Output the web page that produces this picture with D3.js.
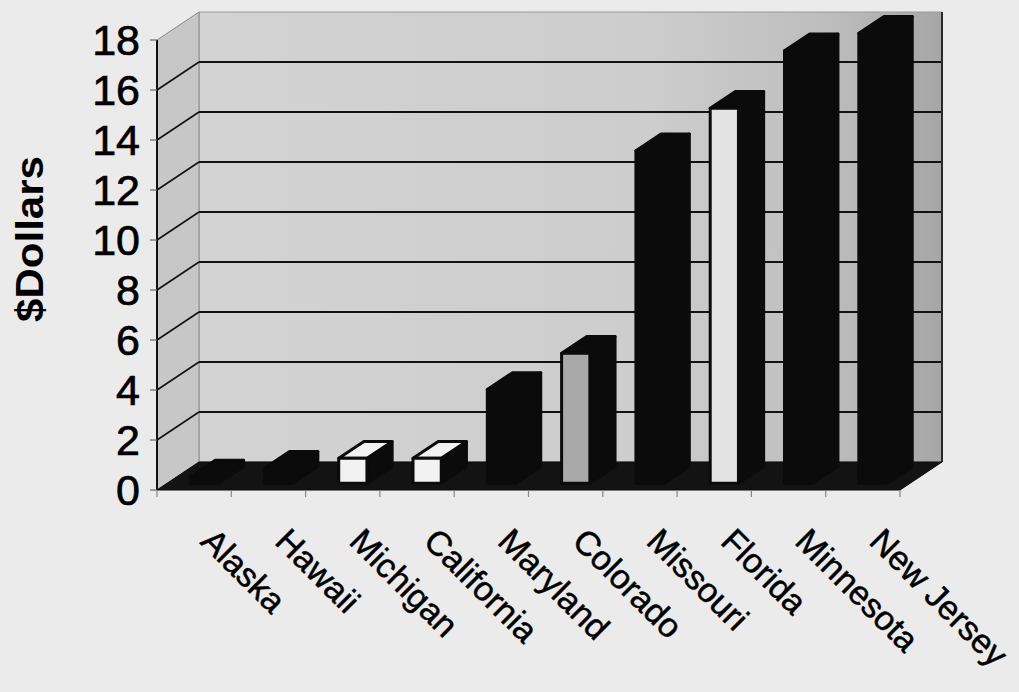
<!DOCTYPE html>
<html><head><meta charset="utf-8">
<script src="https://cdn.jsdelivr.net/npm/d3@7"></script>
<style>html,body{margin:0;padding:0;background:#ebebeb;} svg{display:block}</style>
</head><body>
<svg id="chart" width="1019" height="692"></svg>
<script>
// Data
const states = ["Alaska","Hawaii","Michigan","California","Maryland","Colorado","Missouri","Florida","Minnesota","New Jersey"];
const dollars = [0.25, 0.6, 1.0, 1.0, 3.75, 5.2, 13.3, 15.0, 17.3, 18.0];
const yTicks = [0, 2, 4, 6, 8, 10, 12, 14, 16, 18];
const yTitle = "$Dollars";

// Face shading per state (default is solid ink)
const frontShade = {Michigan: "#f2f2f2", California: "#f2f2f2", Colorado: "#a9a9a9", Florida: "#e3e3e3"};
const topShade = {Michigan: "#f2f2f2", California: "#f2f2f2"};
const INK = "#0b0b0b";

const svg = d3.select("#chart");
const W = 1019, H = 692;
svg.append("rect").attr("width", W).attr("height", H).attr("fill", "#ebebeb");

// Oblique projection of the full floor depth
const DX = 42, DY = -28;
const x = d3.scaleBand().domain(states).range([157, 900]);
const y = d3.scaleLinear().domain([0, 18]).range([490, 40]);
const P = (px, py, f) => [px + f * DX, py + f * DY];
const line = d3.line();

const [x0, x1] = x.range();
const yb = y(0), yt = y(yTicks[yTicks.length - 1]);
const bw = x.bandwidth();

// Back wall shading
const defs = svg.append("defs");
const g1 = defs.append("linearGradient").attr("id", "wallGrad")
  .attr("gradientUnits", "userSpaceOnUse")
  .attr("x1", x0 + DX).attr("x2", x1 + DX).attr("y1", 0).attr("y2", 0);
g1.append("stop").attr("offset", "0").attr("stop-color", "#d3d3d3");
g1.append("stop").attr("offset", "0.6").attr("stop-color", "#cdcdcd");
g1.append("stop").attr("offset", "0.85").attr("stop-color", "#bdbdbd");
g1.append("stop").attr("offset", "1").attr("stop-color", "#a6a6a6");

// Walls
svg.append("path")
  .attr("d", line([P(x0, yb, 1), P(x1, yb, 1), P(x1, yt, 1), P(x0, yt, 1)]) + "Z")
  .attr("fill", "url(#wallGrad)").attr("stroke", "#9a9a9a").attr("stroke-width", 1);
svg.append("path")
  .attr("d", line([[x0, yb], [x0, yt], P(x0, yt, 1), P(x0, yb, 1)]) + "Z")
  .attr("fill", "#c7c7c7").attr("stroke", "#8a8a8a").attr("stroke-width", 1);

// Gridlines on back and side walls
const inner = yTicks.filter(v => v > 0 && v < 18);
svg.append("g").selectAll("path.bg").data(inner).join("path")
  .attr("d", v => line([P(x0, y(v), 1), P(x1, y(v), 1)]))
  .attr("stroke", "#111").attr("stroke-width", 2).attr("fill", "none");
svg.append("g").selectAll("path.sg").data(inner).join("path")
  .attr("d", v => line([[x0, y(v)], P(x0, y(v), 1)]))
  .attr("stroke", "#111").attr("stroke-width", 1.6).attr("fill", "none");

// Right edge of the back wall
svg.append("path").attr("d", line([P(x1, yb, 1), P(x1, yt, 1)]))
  .attr("stroke", "#2a2a2a").attr("stroke-width", 2);

// Floor
svg.append("path")
  .attr("d", line([[x0, yb], [x1, yb], P(x1, yb, 1), P(x0, yb, 1)]) + "Z")
  .attr("fill", "#131313").attr("stroke", "#0a0a0a").attr("stroke-width", 1);

// Value axis line and ticks
svg.append("path").attr("d", line([[x0, yb], [x0, yt]]))
  .attr("stroke", "#111").attr("stroke-width", 2);
svg.append("g").selectAll("path").data(yTicks).join("path")
  .attr("d", v => line([[x0 - 7, y(v)], [x0, y(v)]]))
  .attr("stroke", "#666").attr("stroke-width", 1.2);

// Category ticks along the floor front edge
svg.append("g").selectAll("path").data(d3.range(states.length + 1)).join("path")
  .attr("d", i => line([[x0 + i * bw, yb], [x0 + i * bw, yb + 7]]))
  .attr("stroke", "#888").attr("stroke-width", 1.2);

// Columns
const f0 = 0.24, f1 = 0.84, bwFrac = 0.38;
const bars = svg.append("g");
states.forEach((s, i) => {
  const v = dollars[i];
  const cx = x(s) + bw / 2, w = bw * bwFrac;
  const L = cx - w / 2, R = cx + w / 2, top = y(v), bot = y(0);
  const g = bars.append("g")
    .attr("stroke", INK).attr("stroke-width", 3).attr("stroke-linejoin", "round");
  g.append("path").attr("fill", INK)
    .attr("d", line([P(R, bot, f0), P(R, bot, f1), P(R, top, f1), P(R, top, f0)]) + "Z");
  g.append("path").attr("fill", topShade[s] || INK)
    .attr("d", line([P(L, top, f0), P(R, top, f0), P(R, top, f1), P(L, top, f1)]) + "Z");
  g.append("path").attr("fill", frontShade[s] || INK)
    .attr("d", line([P(L, bot, f0), P(R, bot, f0), P(R, top, f0), P(L, top, f0)]) + "Z");
});

// Value tick labels
svg.append("g").selectAll("text").data(yTicks).join("text")
  .attr("x", 140).attr("y", v => y(v) + 15)
  .attr("text-anchor", "end")
  .attr("font-family", "'Liberation Sans', Arial, sans-serif")
  .attr("font-size", 43).attr("fill", "#000")
  .attr("stroke", "#000").attr("stroke-width", 0.7)
  .text(v => v);

// Category labels
svg.append("g").selectAll("text").data(states).join("text")
  .attr("transform", s => `translate(${x(s) + bw / 2 + 5},543) rotate(45)`)
  .attr("font-family", "'Liberation Sans', Arial, sans-serif")
  .attr("font-size", 34).attr("fill", "#000")
  .attr("stroke", "#000").attr("stroke-width", 0.5)
  .text(s => s);

// Axis title
svg.append("text")
  .attr("transform", "translate(43,239) rotate(-90)")
  .attr("text-anchor", "middle")
  .attr("font-family", "'Liberation Sans', Arial, sans-serif")
  .attr("font-weight", "bold").attr("font-size", 38)
  .attr("textLength", 166).attr("lengthAdjust", "spacingAndGlyphs")
  .attr("fill", "#000")
  .text(yTitle);
</script>
</body></html>
